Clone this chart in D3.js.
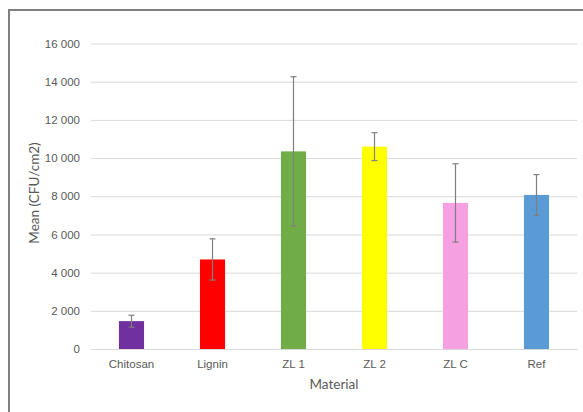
<!DOCTYPE html>
<html><head><meta charset="utf-8">
<script src="https://cdn.jsdelivr.net/npm/d3@7"></script>
<style>body{margin:0;background:#fff;} svg{display:block;font-family:Lato,"Open Sans",sans-serif;}</style>
</head><body>
<svg id="c" width="583" height="412"></svg>
<script>
const categories = ["Chitosan","Lignin","ZL 1","ZL 2","ZL C","Ref"];
const means = [1460, 4690, 10350, 10600, 7650, 8070];
const errors = [310, 1080, 3910, 730, 2050, 1065];
const colors = ["#7030A0","#FF0000","#70AD47","#FFFF00","#F5A0E0","#5B9BD5"];
const yTicks = [0,2000,4000,6000,8000,10000,12000,14000,16000];

const svg = d3.select("#c");
// frame
svg.append("path").attr("d","M9,412 V10 H583").attr("fill","none").attr("stroke","#7f7f7f").attr("stroke-width",2);

const x = d3.scaleBand().domain(categories).range([91,577]).paddingInner(0.69).paddingOuter(0.345);
const y = d3.scaleLinear().domain([0,16000]).range([349,43.5]);

const fmt = v => d3.format(",")(v).replace(/,/g," ");

const ya = svg.append("g").attr("transform","translate(91,0)")
  .call(d3.axisLeft(y).tickValues(yTicks).tickFormat(fmt).tickSize(-486).tickPadding(11));
ya.select(".domain").remove();
ya.selectAll(".tick line").attr("stroke","#d9d9d9");
ya.selectAll(".tick text").attr("fill","#595959").style("font-size","11.5px");

const xa = svg.append("g").attr("transform","translate(0,349)")
  .call(d3.axisBottom(x).tickSize(0).tickPadding(11));
xa.select(".domain").attr("stroke","#d9d9d9");
xa.selectAll(".tick text").attr("fill","#595959").style("font-size","11.5px");

svg.selectAll("rect.bar").data(categories).enter().append("rect").attr("class","bar")
  .attr("x",d=>x(d)).attr("width",x.bandwidth())
  .attr("y",(d,i)=>y(means[i])).attr("height",(d,i)=>y(0)-y(means[i]))
  .attr("fill",(d,i)=>colors[i]);

const eb = svg.append("g").attr("stroke","#7f7f7f").attr("stroke-width",1.2);
categories.forEach((c,i)=>{
  const cx = x(c)+x.bandwidth()/2;
  const t = y(means[i]+errors[i]), b = y(means[i]-errors[i]);
  eb.append("line").attr("x1",cx).attr("x2",cx).attr("y1",t).attr("y2",b);
  eb.append("line").attr("x1",cx-3).attr("x2",cx+3).attr("y1",t).attr("y2",t);
  eb.append("line").attr("x1",cx-3).attr("x2",cx+3).attr("y1",b).attr("y2",b);
});

svg.append("text").attr("x",334).attr("y",389).attr("text-anchor","middle")
  .attr("fill","#595959").style("font-size","13.5px").text("Material");
svg.append("text").attr("transform","translate(39,193) rotate(-90)").attr("text-anchor","middle")
  .attr("fill","#595959").style("font-size","13.5px").text("Mean (CFU/cm2)");
</script>
</body></html>
